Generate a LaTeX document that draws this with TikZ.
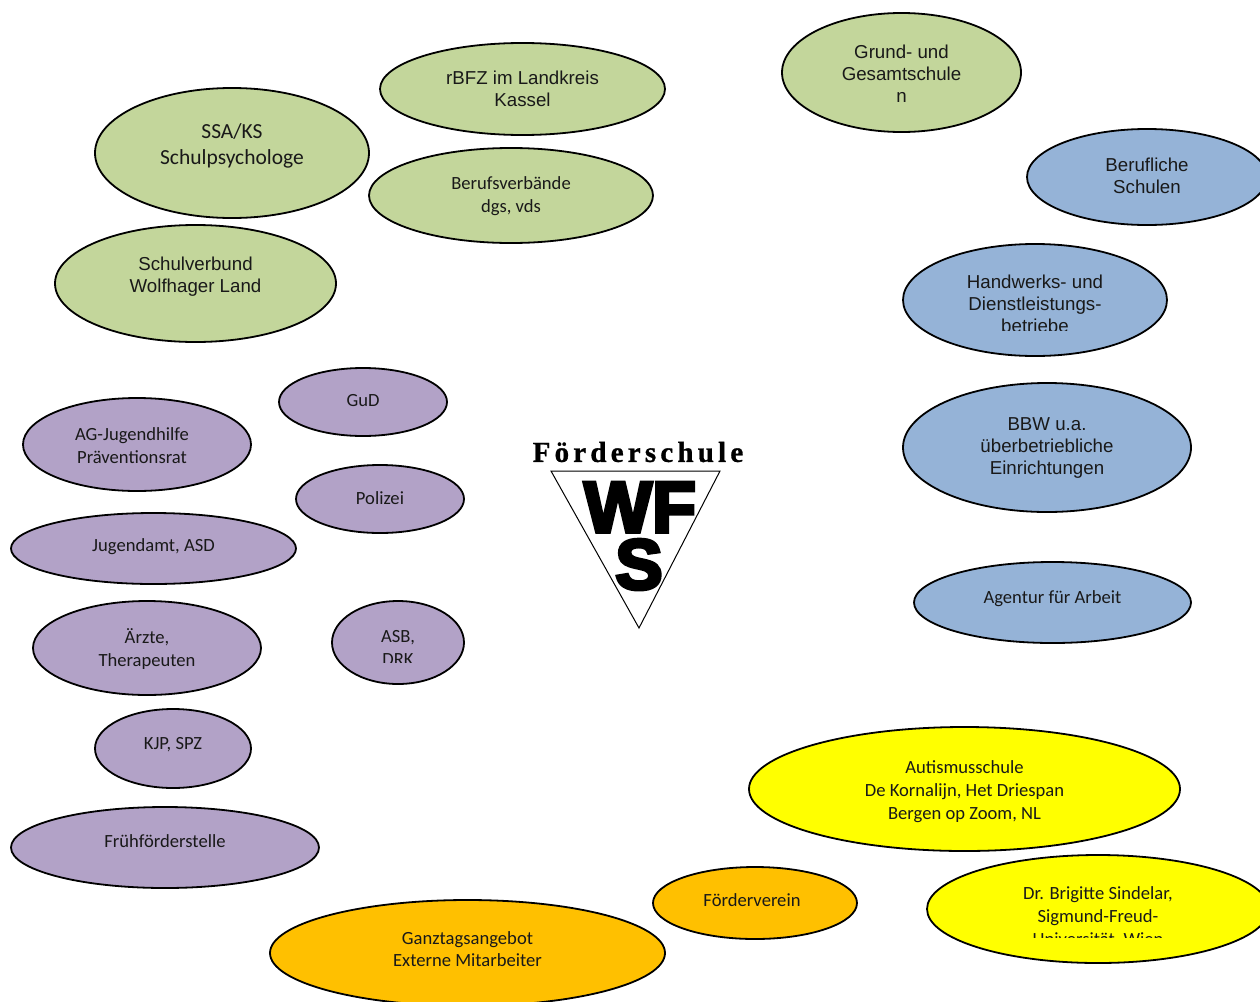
\documentclass[tikz,border=0pt]{standalone}
\usepackage{fontspec}
\setmainfont{Liberation Sans}
\newfontfamily\calfont{Carlito}
\newfontfamily\logofont[LetterSpace=14.5,FakeBold=1]{Liberation Serif}
\newfontfamily\wfsfont[FakeBold=5]{Liberation Sans}
\usetikzlibrary{shapes.geometric, positioning}
\definecolor{netzgreen}{HTML}{C3D69B}
\definecolor{netzblue}{HTML}{95B3D7}
\definecolor{netzlila}{HTML}{B2A2C7}
\definecolor{netzyellow}{HTML}{FFFF00}
\definecolor{netzorange}{HTML}{FFC000}
\begin{document}
\begin{tikzpicture}[x=1pt, y=-1pt]
		% Define elements
		\tikzstyle{oval} = [ellipse, draw=black, line width=1.8pt, inner sep=0pt]
		\tikzstyle{arial} = [align=center, text=black!90, font=\fontsize{18.7}{22}\selectfont]
		\tikzstyle{cal} = [align=center, text=black!90, font=\calfont\fontsize{18.6}{23}\selectfont]
		\tikzstyle{greenoval} = [oval, fill=netzgreen]
		\tikzstyle{blueoval} = [oval, fill=netzblue]
		\tikzstyle{lilaoval} = [oval, fill=netzlila]
		\tikzstyle{yellowoval} = [oval, fill=netzyellow]
		\tikzstyle{orangeoval} = [oval, fill=netzorange]
		\useasboundingbox (0,0) rectangle (1260,1001);

		%% Schulen, Verbaende
		\node [name = ssa, greenoval, minimum width=274pt, minimum height=130pt] at (232,153) {};
		\node [name = ssatext, cal, font=\calfont\fontsize{21.5}{26}\selectfont] at (232,146) {SSA/KS\\Schulpsychologe};
		\node [name = rbfz, greenoval, minimum width=285pt, minimum height=92pt] at (522.5,89) {};
		\node [name = rbfztext, arial] at (522.5,89) {rBFZ im Landkreis\\Kassel};
		\node [name = grund, greenoval, minimum width=239pt, minimum height=119pt] at (901.5,72.5) {};
		\node [name = grundtext, arial] at (901.5,74) {Grund- und\\Gesamtschule\\n};
		\node [name = verband, greenoval, minimum width=284pt, minimum height=95pt] at (511,195.5) {};
		\node [name = verbandtext, cal] at (511,196.5) {Berufsverbände\\dgs, vds};
		\node [name = verbund, greenoval, minimum width=281pt, minimum height=117pt] at (195.5,283.5) {};
		\node [name = verbundtext, arial] at (195.5,276.5) {Schulverbund\\Wolfhager Land};

		%% Beruf
		\node [name = beruf, blueoval, minimum width=240pt, minimum height=96pt] at (1147,177) {};
		\node [name = beruftext, arial] at (1147,176) {Berufliche\\Schulen};
		\node [name = handwerk, blueoval, minimum width=264pt, minimum height=112pt] at (1035,300) {};
		\begin{scope}
			\clip (900,240) rectangle (1170,330);
			\node [name = handwerktext, arial] at (1035,303.5) {Handwerks- und\\Dienstleistungs-\\betriebe};
		\end{scope}
		\node [name = bbw, blueoval, minimum width=288pt, minimum height=129pt] at (1047,447.5) {};
		\node [name = bbwtext, arial] at (1047,448) {BBW u.a.\\überbetriebliche\\Einrichtungen};
		\node [name = agentur, blueoval, minimum width=277pt, minimum height=81pt] at (1052.5,602.5) {};
		\node [name = agenturtext, cal] at (1052.5,598.5) {Agentur für Arbeit};

		%% Hilfen
		\node [name = gud, lilaoval, minimum width=168pt, minimum height=68pt] at (363,402) {};
		\node [name = gudtext, cal] at (363,401) {GuD};
		\node [name = ag, lilaoval, minimum width=228pt, minimum height=93pt] at (137,444.5) {};
		\node [name = agtext, cal] at (132,445.5) {AG-Jugendhilfe\\Präventionsrat};
		\node [name = polizei, lilaoval, minimum width=168pt, minimum height=68pt] at (380,499) {};
		\node [name = polizeitext, cal] at (380,498) {Polizei};
		\node [name = jugendamt, lilaoval, minimum width=285pt, minimum height=71pt] at (153.5,548.5) {};
		\node [name = jugendamttext, cal] at (153.5,546.5) {Jugendamt, ASD};
		\node [name = aerzte, lilaoval, minimum width=228pt, minimum height=94pt] at (147,648) {};
		\node [name = aerztetext, cal] at (147,649) {Ärzte,\\Therapeuten};
		\node [name = asb, lilaoval, minimum width=132pt, minimum height=83pt] at (398,642.5) {};
		\begin{scope}
			\clip (330,600) rectangle (466,662);
			\node [name = asbtext, cal] at (398,648) {ASB,\\DRK};
		\end{scope}
		\node [name = kjp, lilaoval, minimum width=156pt, minimum height=79pt] at (173,748.5) {};
		\node [name = kjptext, cal] at (173,744.5) {KJP, SPZ};
		\node [name = frueh, lilaoval, minimum width=308pt, minimum height=81pt] at (165,847.5) {};
		\node [name = fruehtext, cal] at (165,841.5) {Frühförderstelle};

		%% Ganztag, Ausland
		\node [name = autismus, yellowoval, minimum width=431pt, minimum height=124pt] at (964.5,789) {};
		\node [name = autismustext, cal] at (964.5,792) {Autismusschule\\De Kornalijn, Het Driespan\\Bergen op Zoom, NL};
		\node [name = sindelar, yellowoval, minimum width=342pt, minimum height=108pt] at (1098,909) {};
		\begin{scope}
			\clip (925,860) rectangle (1260,937);
			\node [name = sindelartext, cal] at (1098,917) {Dr. Brigitte Sindelar,\\Sigmund-Freud-\\Universität, Wien};
		\end{scope}
		\node [name = verein, orangeoval, minimum width=204pt, minimum height=72pt] at (755,903) {};
		\node [name = vereintext, cal] at (752,900) {Förderverein};
		\node [name = ganztag, orangeoval, minimum width=395pt, minimum height=106pt] at (467.5,953) {};
		\node [name = ganztagtext, cal, font=\calfont\fontsize{18.6}{22}\selectfont] at (467.5,949.5) {Ganztagsangebot\\Externe Mitarbeiter};

		%% Logo
		\node [name = logotext, font=\logofont\bfseries\fontsize{29}{29}\selectfont] at (638,452) {Förderschule};
		\draw [line width=1pt] (551,471) -- (720,471) -- (639,628) -- cycle;
		\node [name = logowf, font=\wfsfont\bfseries\fontsize{72}{72}\selectfont, inner sep=0pt, text height=54pt, text depth=0pt] at (640,505) {WF};
		\node [name = logos, font=\wfsfont\bfseries\fontsize{71}{71}\selectfont, inner sep=0pt, text height=52pt, text depth=0pt] at (639,563) {S};
\end{tikzpicture}
\end{document}
